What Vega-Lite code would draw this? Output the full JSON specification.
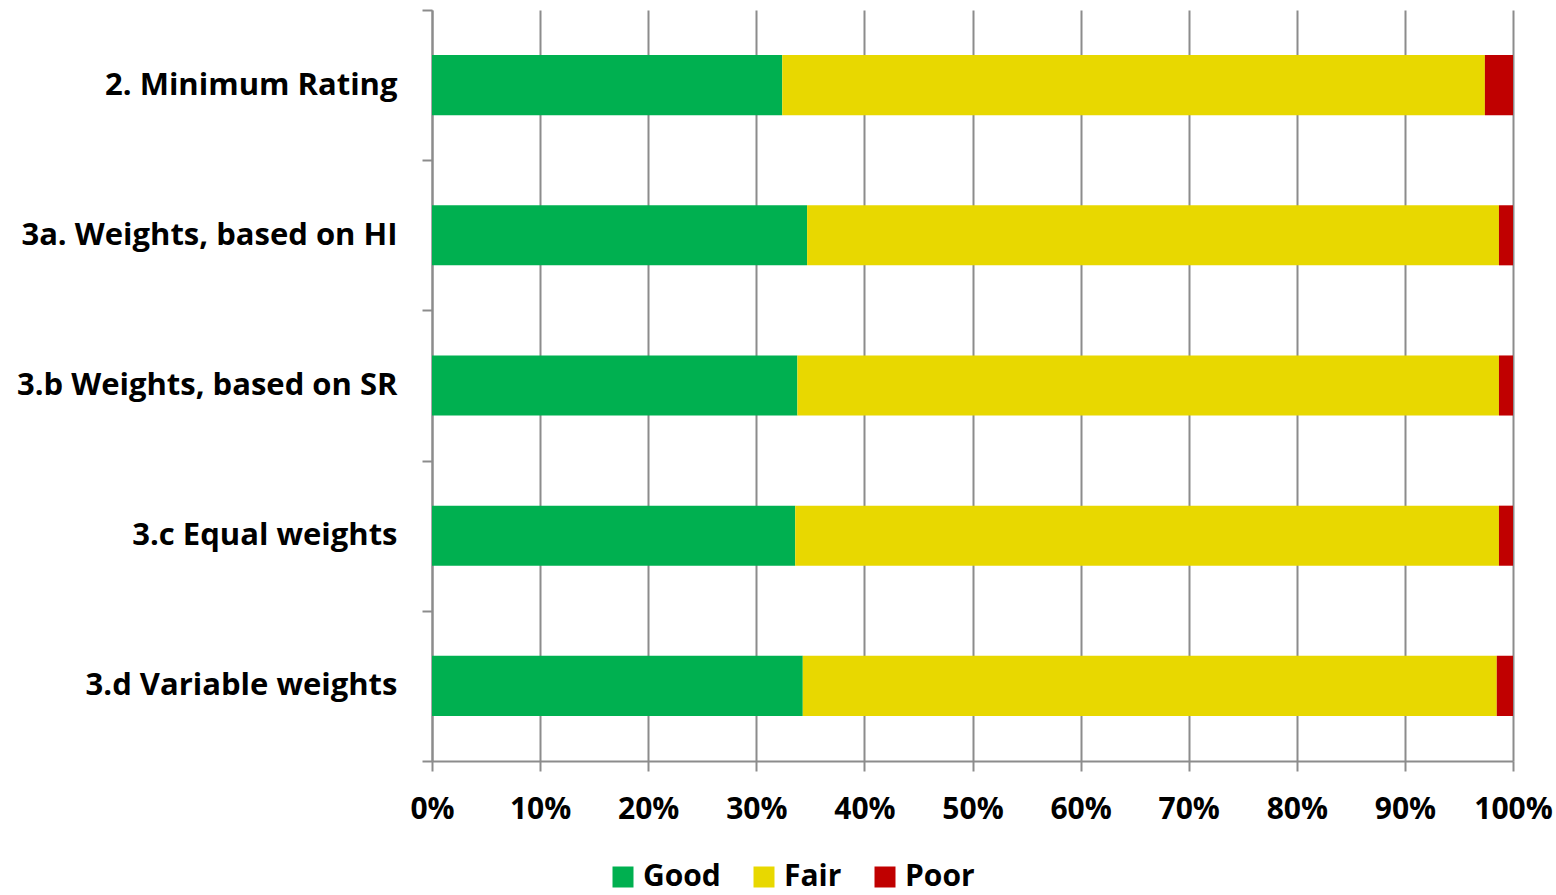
{
  "$schema": "https://vega.github.io/schema/vega-lite/v6.json",
  "width": 1081,
  "height": 751,
  "autosize": {"type": "none"},
  "padding": {"left": 432, "top": 10, "right": 43, "bottom": 134},
  "background": "white",
  "data": {
    "values": [
      {"method": "2. Minimum Rating", "rating": "Good", "o": 1, "value": 32.4},
      {"method": "2. Minimum Rating", "rating": "Fair", "o": 2, "value": 65.0},
      {"method": "2. Minimum Rating", "rating": "Poor", "o": 3, "value": 2.6},
      {"method": "3a. Weights, based on HI", "rating": "Good", "o": 1, "value": 34.7},
      {"method": "3a. Weights, based on HI", "rating": "Fair", "o": 2, "value": 64.0},
      {"method": "3a. Weights, based on HI", "rating": "Poor", "o": 3, "value": 1.3},
      {"method": "3.b Weights, based on SR", "rating": "Good", "o": 1, "value": 33.8},
      {"method": "3.b Weights, based on SR", "rating": "Fair", "o": 2, "value": 64.9},
      {"method": "3.b Weights, based on SR", "rating": "Poor", "o": 3, "value": 1.3},
      {"method": "3.c Equal weights", "rating": "Good", "o": 1, "value": 33.6},
      {"method": "3.c Equal weights", "rating": "Fair", "o": 2, "value": 65.1},
      {"method": "3.c Equal weights", "rating": "Poor", "o": 3, "value": 1.3},
      {"method": "3.d Variable weights", "rating": "Good", "o": 1, "value": 34.3},
      {"method": "3.d Variable weights", "rating": "Fair", "o": 2, "value": 64.2},
      {"method": "3.d Variable weights", "rating": "Poor", "o": 3, "value": 1.5}
    ]
  },
  "config": {
    "view": {"stroke": null},
    "font": "Open Sans"
  },
  "mark": {"type": "bar", "height": {"band": 0.4}},
  "encoding": {
    "y": {
      "field": "method",
      "type": "nominal",
      "sort": null,
      "scale": {"paddingInner": 0, "paddingOuter": 0},
      "axis": {
        "title": null,
        "labelFont": "Open Sans",
        "labelFontWeight": "bold",
        "labelFontSize": 31,
        "labelColor": "black",
        "labelLimit": 0,
        "labelPadding": 25,
        "tickBand": "extent",
        "tickSize": 10,
        "tickColor": "#8c8c8c",
        "tickWidth": 2,
        "domainColor": "#8c8c8c",
        "domainWidth": 2,
        "grid": false
      }
    },
    "x": {
      "field": "value",
      "type": "quantitative",
      "stack": "normalize",
      "scale": {"domain": [0, 1], "nice": false},
      "axis": {
        "title": null,
        "format": ".0%",
        "values": [0, 0.1, 0.2, 0.3, 0.4, 0.5, 0.6, 0.7, 0.8, 0.9, 1],
        "labelFont": "Open Sans",
        "labelFontWeight": "bold",
        "labelFontSize": 30,
        "labelColor": "black",
        "labelPadding": 23,
        "labelFlush": false,
        "tickSize": 10,
        "tickColor": "#8c8c8c",
        "tickWidth": 2,
        "domainColor": "#8c8c8c",
        "domainWidth": 2,
        "grid": true,
        "gridColor": "#8c8c8c",
        "gridWidth": 2
      }
    },
    "color": {
      "field": "rating",
      "type": "nominal",
      "scale": {"domain": ["Good", "Fair", "Poor"], "range": ["#00b050", "#e8d800", "#c00000"]},
      "legend": {
        "title": null,
        "orient": "none",
        "direction": "horizontal",
        "legendX": 176,
        "legendY": 852,
        "symbolType": "square",
        "symbolSize": 441,
        "symbolStrokeWidth": 0,
        "symbolOpacity": 1,
        "labelFont": "Open Sans",
        "labelFontWeight": "bold",
        "labelFontSize": 30,
        "labelColor": "black",
        "columnPadding": 28,
        "labelOffset": 5
      }
    },
    "order": {"field": "o", "type": "quantitative"}
  }
}
